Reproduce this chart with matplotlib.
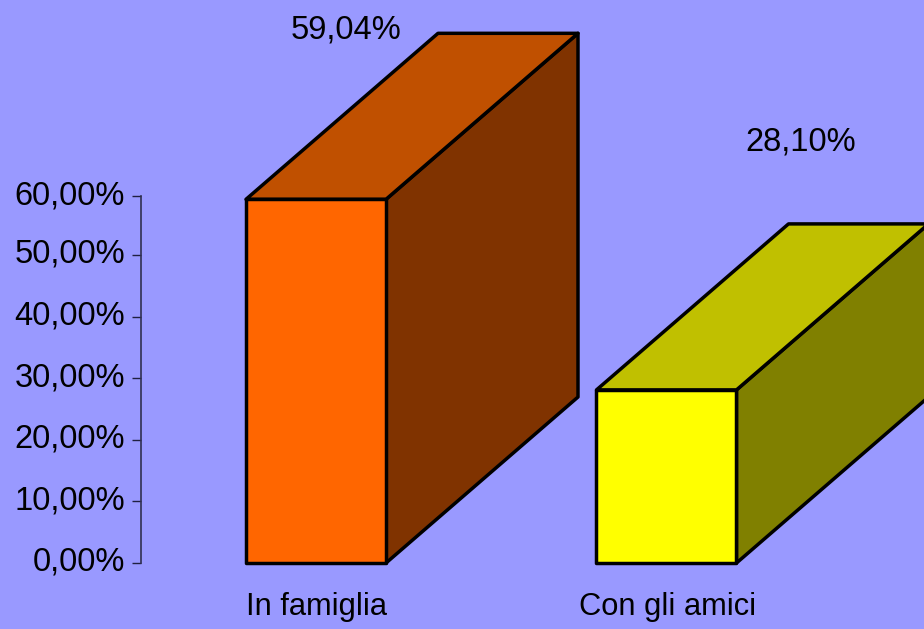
import matplotlib as mpl
mpl.use("Agg")
import matplotlib.pyplot as plt
from matplotlib.patches import Polygon
from matplotlib.transforms import ScaledTranslation

categories = ["In famiglia", "Con gli amici"]
values = [59.04, 28.10]
value_labels = ["59,04%", "28,10%"]
# top tick sits a bit low in the reference, so 59.5 and not 60
y_ticks = [0, 10, 20, 30, 40, 50, 59.5]
y_tick_labels = ["0,00%", "10,00%", "20,00%", "30,00%", "40,00%", "50,00%", "60,00%"]

front_cols = ["#ff6600", "#ffff00"]
top_cols = ["#c05000", "#c0c000"]
side_cols = ["#803300", "#808000"]
bg_col = "#9999ff"

W, H = 924, 629
y0_px = 563                       # pixel row of 0%
px_y = 6.16                       # pixels per percent
x0_px, x_step_px = 316, 350.5     # pixel column of first bar, bar spacing
depth_x = 192.0 / x_step_px       # depth offset in data units
depth_y = 166.0 / px_y
bar_w = 140.0 / x_step_px
label_off = [(30, 169), (134.5, 248)]   # value label offset from the bar top, px


def draw_bar(ax, x, val, c_front, c_top, c_side):
    l, r = x - bar_w/2, x + bar_w/2
    faces = [
        ([(r, 0), (r+depth_x, depth_y), (r+depth_x, val+depth_y), (r, val)], c_side),
        ([(l, val), (r, val), (r+depth_x, val+depth_y), (l+depth_x, val+depth_y)], c_top),
        ([(l, 0), (r, 0), (r, val), (l, val)], c_front),
    ]
    for pts, col in faces:
        ax.add_patch(Polygon(pts, closed=True, facecolor=col, edgecolor="k",
                             linewidth=2.5, joinstyle="round"))


mpl.rcParams.update({
    "font.family": "Liberation Sans",
    "font.size": 23.5,
})

fig = plt.figure(figsize=(W/100, H/100), dpi=100, facecolor=bg_col)
ax = fig.add_axes([0, 0, 1, 1], facecolor=bg_col)
ax.set_xlim(-x0_px/x_step_px, (W - x0_px)/x_step_px)
ax.set_ylim(-(H - y0_px)/px_y, y0_px/px_y)

for i, val in enumerate(values):
    draw_bar(ax, i, val, front_cols[i], top_cols[i], side_cols[i])
    ax.annotate(value_labels[i], xy=(i, val), xytext=label_off[i],
                textcoords="offset pixels", ha="center", va="center", color="k")
    ax.annotate(categories[i], xy=(i, 0), xytext=(1, -44), fontsize=22.2,
                textcoords="offset pixels", ha="center", va="center", color="k")

# value axis
for s in ["top", "right", "bottom"]:
    ax.spines[s].set_visible(False)
ax.spines["left"].set_position(("data", (141.5 - x0_px)/x_step_px))
ax.spines["left"].set_bounds(0, 59.5)
ax.spines["left"].set_color("#303050")
ax.spines["left"].set_linewidth(1.2)
ax.set_xticks([])
ax.set_yticks(y_ticks)
ax.set_yticklabels(y_tick_labels)
ax.tick_params(axis="y", direction="out", length=6.5, width=1.0, color="#202040",
               pad=5.5, labelcolor="k")

# labels sit slightly above their ticks
shift = ScaledTranslation(0, 3/72, fig.dpi_scale_trans)
for lab in ax.get_yticklabels():
    lab.set_transform(lab.get_transform() + shift)

fig.savefig("out.png", dpi=100, facecolor=bg_col)
